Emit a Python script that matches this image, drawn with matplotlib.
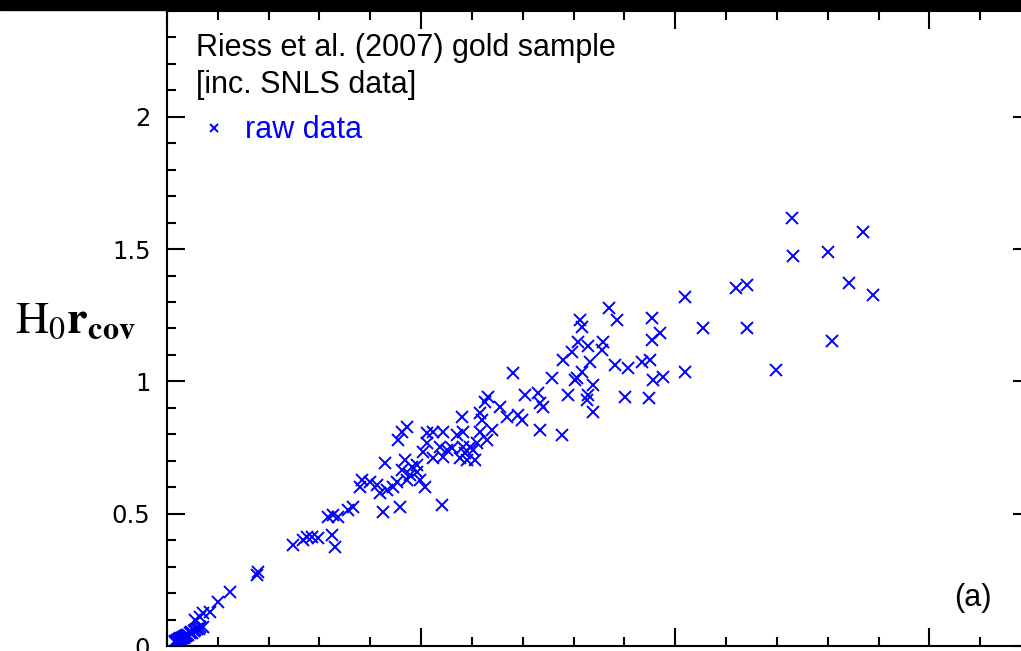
import numpy as np
import matplotlib
matplotlib.use("Agg")
import matplotlib.pyplot as plt
from matplotlib.patches import Rectangle
from matplotlib.ticker import MultipleLocator

# redshift z and H0 * r_cov
z = [1.230, 1.370, 1.301, 1.232, 1.120, 1.142, 1.341, 1.390, 1.055, 1.142,
     1.309, 1.199, 1.020, 0.870, 0.886, 0.955, 0.813, 0.817, 0.970, 0.955,
     0.809, 0.829, 0.858, 0.856, 0.797, 0.780, 0.833, 0.817, 0.803, 0.882,
     0.907, 0.935, 0.951, 1.020, 0.976, 0.957, 0.839, 0.829, 0.789, 0.902,
     0.949, 0.839, 0.778, 0.681, 0.758, 0.807, 0.827, 0.632, 0.626, 0.656,
     0.705, 0.730, 0.740, 0.734, 0.581, 0.616, 0.620, 0.669, 0.691, 0.699,
     0.734, 0.543, 0.571, 0.583, 0.616, 0.640, 0.610, 0.630, 0.551, 0.561,
     0.583, 0.602, 0.577, 0.591, 0.606, 0.543, 0.541, 0.472, 0.463, 0.455,
     0.512, 0.524, 0.512, 0.537, 0.587, 0.596, 0.504, 0.524, 0.429, 0.469,
     0.482, 0.463, 0.478, 0.472, 0.492, 0.498, 0.508, 0.453, 0.445, 0.433,
     0.419, 0.413, 0.400, 0.384, 0.380, 0.492, 0.425, 0.459, 0.366, 0.356,
     0.327, 0.337, 0.317, 0.325, 0.331, 0.297, 0.285, 0.276, 0.268, 0.248,
     0.177, 0.179, 0.124, 0.100, 0.085, 0.071, 0.065, 0.055,
     0.015, 0.016, 0.018, 0.020, 0.021, 0.022, 0.024, 0.025, 0.026, 0.028,
     0.030, 0.031, 0.033, 0.035, 0.036, 0.038, 0.040, 0.042, 0.045, 0.048,
     0.050, 0.053, 0.056, 0.060, 0.063, 0.065, 0.070]
h0r = [1.618, 1.565, 1.490, 1.474, 1.354, 1.365, 1.372, 1.327, 1.202, 1.202,
       1.153, 1.043, 1.319, 1.278, 1.233, 1.240, 1.233, 1.206, 1.183, 1.157,
       1.149, 1.134, 1.149, 1.119, 1.112, 1.081, 1.074, 1.036, 1.006, 1.062,
       1.051, 1.074, 1.081, 1.036, 1.017, 1.006, 0.987, 0.949, 0.949, 0.941,
       0.938, 0.885, 0.798, 1.032, 1.013, 1.013, 0.930, 0.941, 0.922, 0.904,
       0.949, 0.957, 0.904, 0.919, 0.866, 0.881, 0.854, 0.866, 0.873, 0.854,
       0.817, 0.809, 0.798, 0.809, 0.809, 0.817, 0.767, 0.779, 0.741, 0.749,
       0.752, 0.741, 0.711, 0.703, 0.703, 0.715, 0.533, 0.828, 0.809, 0.779,
       0.805, 0.809, 0.767, 0.752, 0.730, 0.752, 0.733, 0.711, 0.692, 0.703,
       0.677, 0.665, 0.647, 0.628, 0.658, 0.628, 0.601, 0.620, 0.601, 0.590,
       0.578, 0.609, 0.620, 0.628, 0.601, 0.684, 0.507, 0.526, 0.526, 0.514,
       0.495, 0.488, 0.488, 0.420, 0.374, 0.408, 0.412, 0.412, 0.401, 0.382,
       0.268, 0.280, 0.204, 0.166, 0.129, 0.125, 0.110, 0.098,
       0.014, 0.018, 0.017, 0.021, 0.024, 0.020, 0.026, 0.023, 0.029, 0.027,
       0.032, 0.034, 0.030, 0.037, 0.039, 0.036, 0.043, 0.041, 0.048, 0.052,
       0.049, 0.055, 0.060, 0.063, 0.066, 0.071, 0.072]

W, H = 1021, 651
plt.rcParams['mathtext.fontset'] = 'stix'
fig = plt.figure(figsize=(W / 100, H / 100), dpi=100)
# axes runs off the right edge of the cropped picture
ax = fig.add_axes([167 / W, 5 / H, 864 / W, 635 / H])

pts, = ax.plot(z, h0r, linestyle='none', marker='x', ms=8.5, mew=1.4,
               color='blue', label='raw data')

ax.set_xlim(0, 1.7)
ax.set_ylim(0, 2.4)
ax.xaxis.set_major_locator(MultipleLocator(0.5))
ax.xaxis.set_minor_locator(MultipleLocator(0.1))
ax.yaxis.set_major_locator(MultipleLocator(0.5))
ax.yaxis.set_minor_locator(MultipleLocator(0.1))
ax.yaxis.set_major_formatter(plt.FuncFormatter(lambda v, p: f"{v:g}"))
ax.tick_params(which='both', direction='in', top=True, right=True,
               width=1.5, labelsize=17.5, pad=12, labelbottom=False)
ax.tick_params(which='major', length=13)
ax.tick_params(which='minor', length=6.5)
for s in ax.spines.values():
    s.set_linewidth(1.5)

leg = ax.legend(handles=[pts], title='Riess et al. (2007) gold sample\n[inc. SNLS data]',
                loc='upper left', bbox_to_anchor=(0.033, 0.965), frameon=False,
                prop={'family': 'Liberation Sans', 'size': 22},
                title_fontproperties={'family': 'Liberation Sans', 'size': 22},
                labelcolor='blue', alignment='left',
                markerscale=0.7, handlelength=1.2, handletextpad=0.43,
                borderpad=0, borderaxespad=0)
leg.get_title().set_linespacing(1.3)

ax.text(0.955, 0.075, '(a)', transform=ax.transAxes, fontsize=22,
        family='Liberation Sans', ha='right', va='center')

fig.text(15 / W, 1 - 320 / H, r'$\mathrm{H}_{\mathrm{0}}\mathbf{r}_{\mathbf{cov}}$',
         fontsize=33, ha='left', va='center')

# black border strip along the top of the crop
fig.patches.append(Rectangle((0, 1 - 10 / H), 1, 10 / H, transform=fig.transFigure,
                             color='black', zorder=10))

fig.savefig('out.png', dpi=100)
